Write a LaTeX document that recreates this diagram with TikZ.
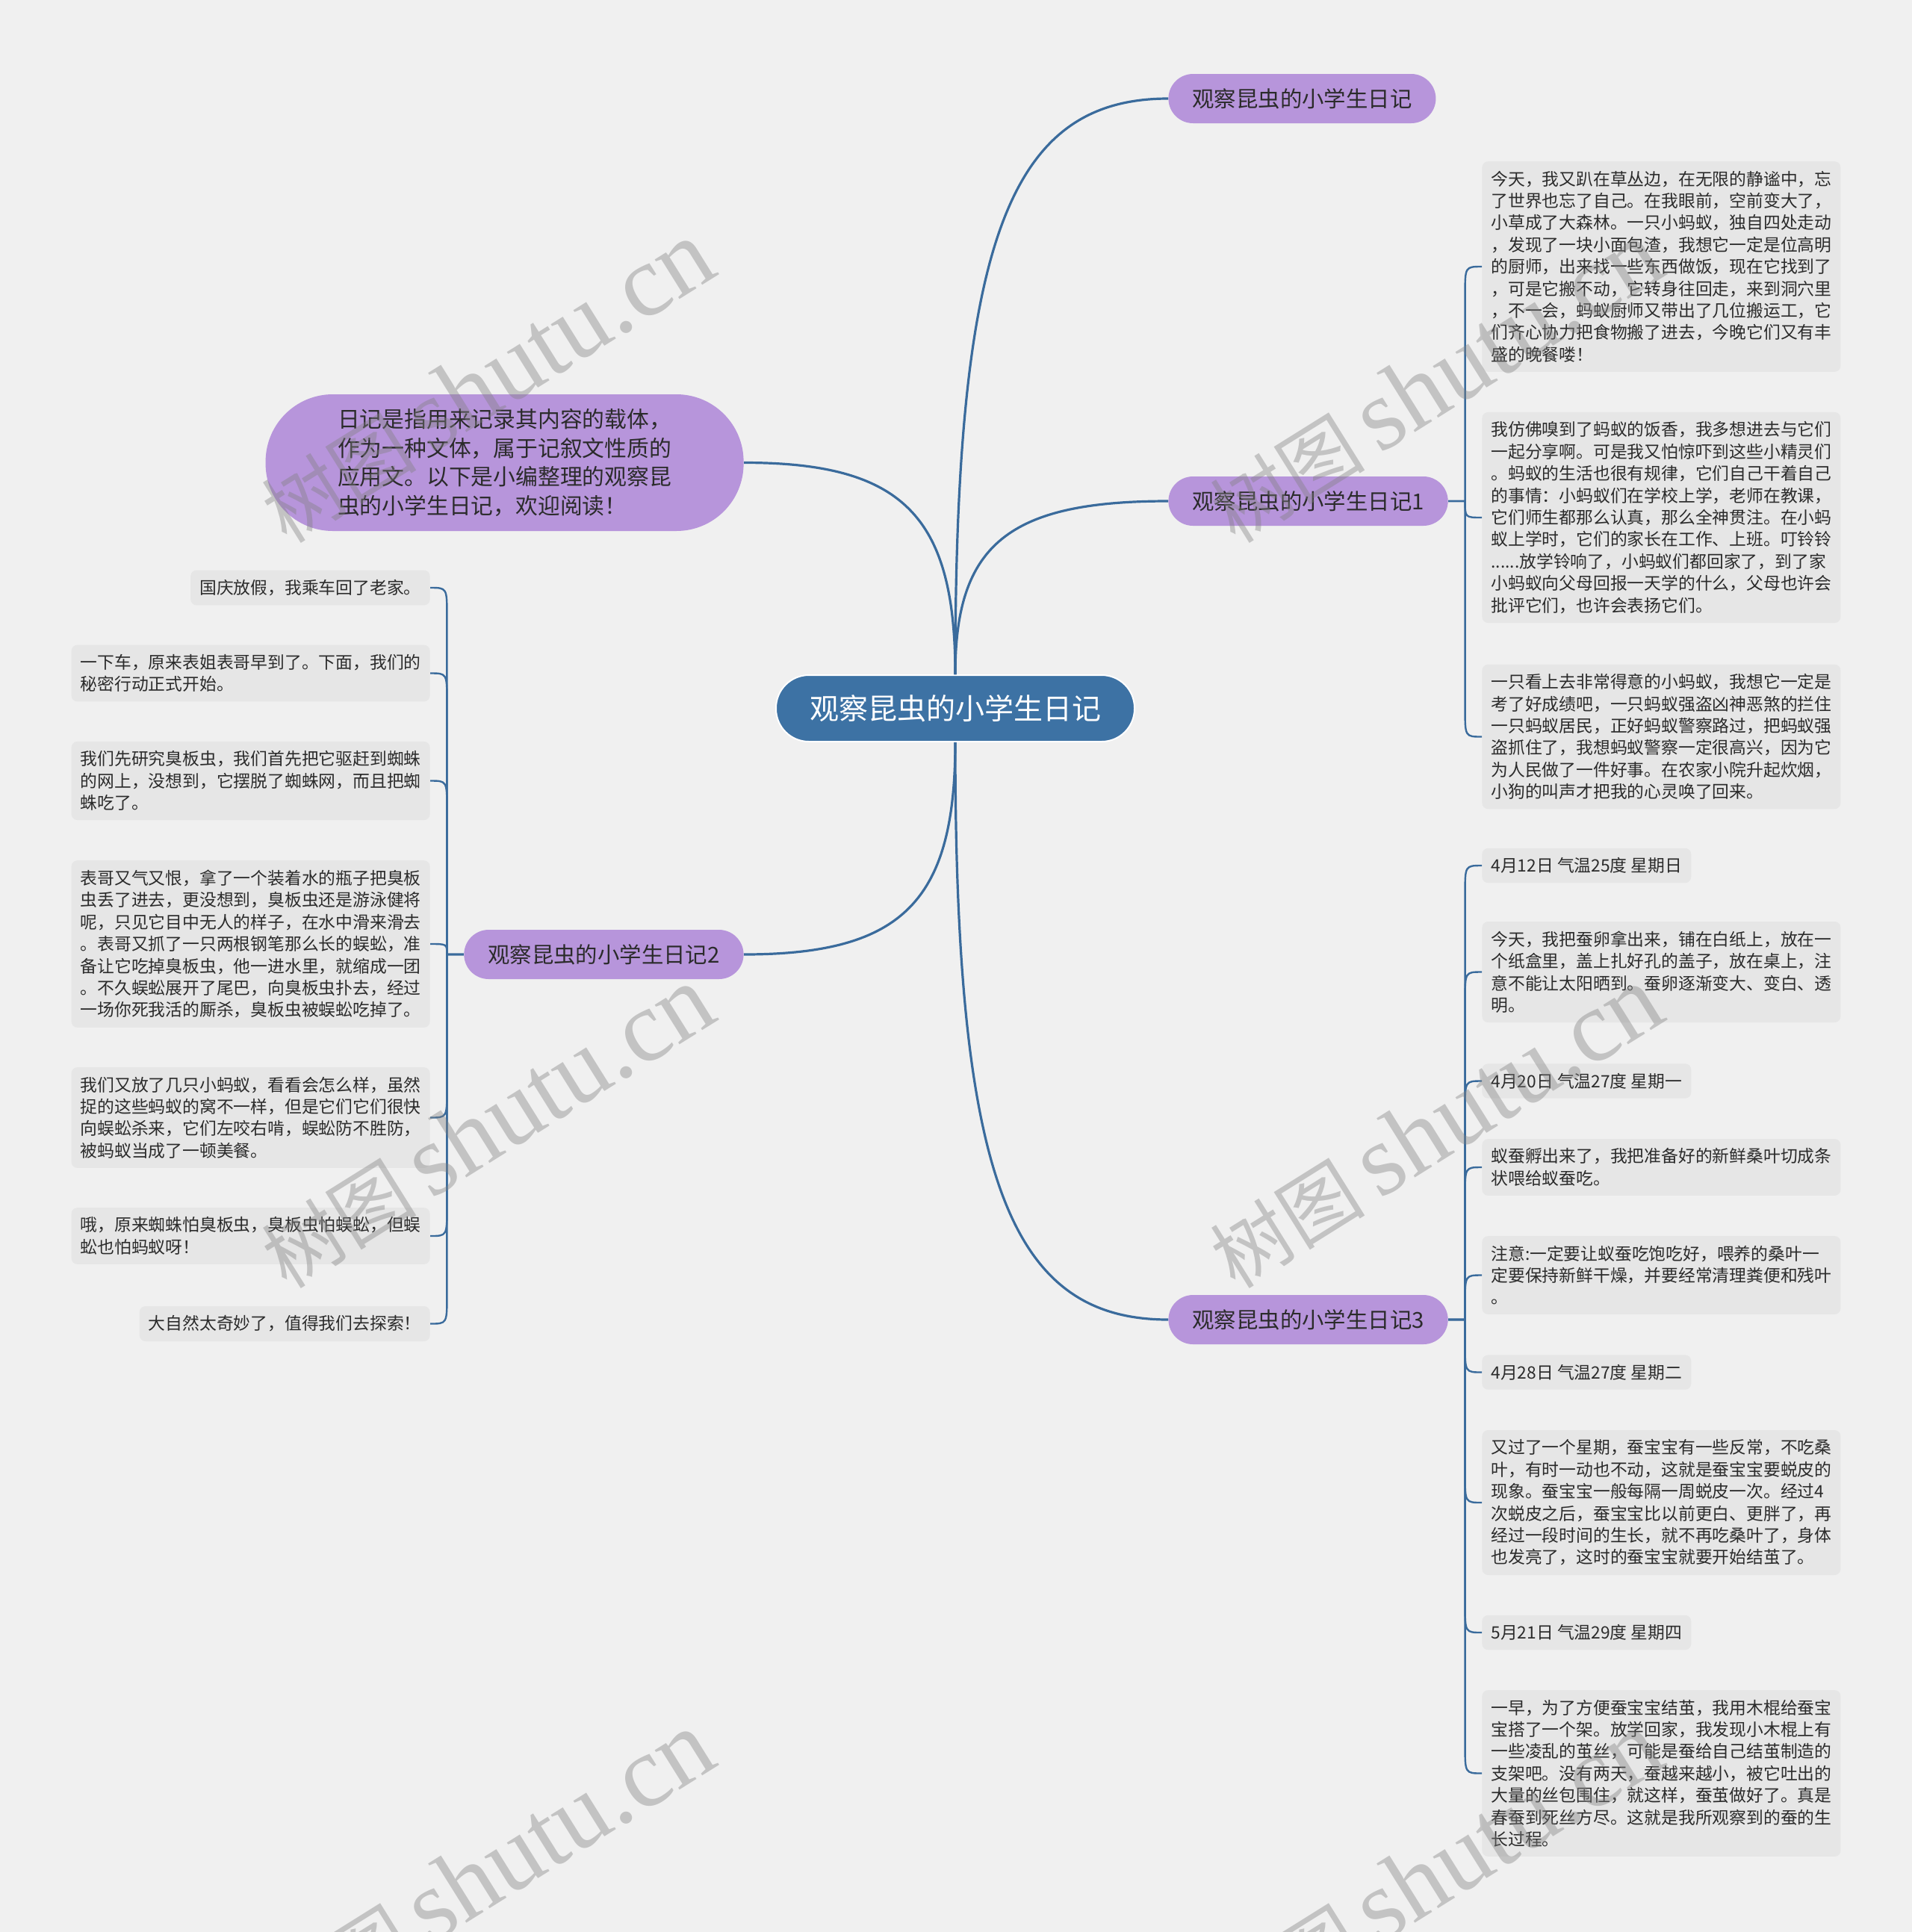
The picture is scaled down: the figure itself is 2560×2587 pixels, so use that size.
\documentclass[tikz,border=0pt]{standalone}
\usepackage{fontspec}
\setmainfont{Noto Sans CJK SC}
\newfontfamily\wmlat{Liberation Serif}
\newfontfamily\wmcjk{Noto Sans CJK SC}
\usetikzlibrary{calc}
\definecolor{bgc}{HTML}{F0F0F0}
\definecolor{mainblue}{HTML}{3D72A4}
\definecolor{linkblue}{HTML}{3A6B9C}
\definecolor{purp}{HTML}{B795DB}
\definecolor{leafgray}{HTML}{E6E6E6}
\definecolor{txt}{HTML}{2B2B2B}
\tikzset{
  rootnode/.style={fill=mainblue, draw=white, line width=1pt, rounded corners=22pt, text=white,
    font=\fontsize{19.5}{23}\selectfont, minimum height=44.5pt, minimum width=240pt, inner xsep=20pt},
  topicnode/.style={fill=purp, rounded corners=16.5pt, text=txt,
    font=\fontsize{14.7}{18}\selectfont, minimum height=33pt, inner xsep=16pt},
  intronode/.style={fill=purp, rounded corners=45pt, text=txt, align=left,
    font=\fontsize{14.9}{19.4}\selectfont, minimum height=91.5pt, minimum width=320pt, inner xsep=46pt},
  leafbox/.style={fill=leafgray, rounded corners=4pt, text=txt, align=left,
    font=\fontsize{11.4}{14.7}\selectfont, inner xsep=6pt, inner ysep=6.3pt},
  main link/.style={draw=linkblue, line width=1.6pt},
  leaf link/.style={draw=linkblue, line width=1.2pt},
  wmark/.style={text=gray, opacity=0.4, rotate=32, inner sep=0pt}
}
\newcommand\mlink[2]{\draw[main link] let \p1=(#1), \p2=(#2) in (\p1) .. controls (\x1,{\y1+0.75*(\y2-\y1)}) and ({\x1+0.25*(\x2-\x1)},\y2) .. (\p2);}
\newcommand\llink[2]{\draw[leaf link] let \p1=(#1), \p2=(#2), \n1={(\x1+\x2)/2}, \n2={min(19,abs(\y2-\y1))/max(abs(\y2-\y1),0.01)} in (\p1) -- ({\n1*1pt},\y1) -- ({\n1*1pt},{\y2+(\y1-\y2)*\n2}) .. controls ({\n1*1pt},\y2) .. (\p2);}
\newcommand\wmtext{{\wmcjk\fontsize{52}{52}\selectfont 树图}\hspace{10pt}{\wmlat\fontsize{68}{68}\selectfont shutu.cn}}
\begin{document}
\begin{tikzpicture}[x=0.5pt,y=-0.5pt]
\fill[bgc] (0,0) rectangle (2560,2587);
\useasboundingbox (0,0) rectangle (2560,2587);

% root and topics
\node[rootnode] (root) at (1279,948.5) {观察昆虫的小学生日记};
\node[topicnode, anchor=west] (A) at (1564,132) {观察昆虫的小学生日记};
\node[topicnode, anchor=west] (B) at (1564,671) {观察昆虫的小学生日记1};
\node[topicnode, anchor=west] (C) at (1564,1767) {观察昆虫的小学生日记3};
\node[topicnode, anchor=east] (D) at (996,1278) {观察昆虫的小学生日记2};
\node[intronode, anchor=east] (E) at (996,619.5) {日记是指用来记录其内容的载体，\\作为一种文体，属于记叙文性质的\\应用文。以下是小编整理的观察昆\\虫的小学生日记，欢迎阅读！};

% leaves of diary 1
\node[leafbox, anchor=west] (b1) at (1984,357) {今天，我又趴在草丛边，在无限的静谧中，忘\\了世界也忘了自己。在我眼前，空前变大了，\\小草成了大森林。一只小蚂蚁，独自四处走动\\，发现了一块小面包渣，我想它一定是位高明\\的厨师，出来找一些东西做饭，现在它找到了\\，可是它搬不动，它转身往回走，来到洞穴里\\，不一会，蚂蚁厨师又带出了几位搬运工，它\\们齐心协力把食物搬了进去，今晚它们又有丰\\盛的晚餐喽！};
\node[leafbox, anchor=west] (b2) at (1984,693) {我仿佛嗅到了蚂蚁的饭香，我多想进去与它们\\一起分享啊。可是我又怕惊吓到这些小精灵们\\。蚂蚁的生活也很有规律，它们自己干着自己\\的事情：小蚂蚁们在学校上学，老师在教课，\\它们师生都那么认真，那么全神贯注。在小蚂\\蚁上学时，它们的家长在工作、上班。叮铃铃\\......放学铃响了，小蚂蚁们都回家了，到了家\\小蚂蚁向父母回报一天学的什么，父母也许会\\批评它们，也许会表扬它们。};
\node[leafbox, anchor=west] (b3) at (1984,986.5) {一只看上去非常得意的小蚂蚁，我想它一定是\\考了好成绩吧，一只蚂蚁强盗凶神恶煞的拦住\\一只蚂蚁居民，正好蚂蚁警察路过，把蚂蚁强\\盗抓住了，我想蚂蚁警察一定很高兴，因为它\\为人民做了一件好事。在农家小院升起炊烟，\\小狗的叫声才把我的心灵唤了回来。};

% leaves of diary 3
\node[leafbox, anchor=west] (c1) at (1984,1159) {4月12日 气温25度 星期日};
\node[leafbox, anchor=west] (c2) at (1984,1301.5) {今天，我把蚕卵拿出来，铺在白纸上，放在一\\个纸盒里，盖上扎好孔的盖子，放在桌上，注\\意不能让太阳晒到。蚕卵逐渐变大、变白、透\\明。};
\node[leafbox, anchor=west] (c3) at (1984,1447.5) {4月20日 气温27度 星期一};
\node[leafbox, anchor=west] (c4) at (1984,1563) {蚁蚕孵出来了，我把准备好的新鲜桑叶切成条\\状喂给蚁蚕吃。};
\node[leafbox, anchor=west] (c5) at (1984,1707.5) {注意:一定要让蚁蚕吃饱吃好，喂养的桑叶一\\定要保持新鲜干燥，并要经常清理粪便和残叶\\。};
\node[leafbox, anchor=west] (c6) at (1984,1837.5) {4月28日 气温27度 星期二};
\node[leafbox, anchor=west] (c7) at (1984,2012) {又过了一个星期，蚕宝宝有一些反常，不吃桑\\叶，有时一动也不动，这就是蚕宝宝要蜕皮的\\现象。蚕宝宝一般每隔一周蜕皮一次。经过4\\次蜕皮之后，蚕宝宝比以前更白、更胖了，再\\经过一段时间的生长，就不再吃桑叶了，身体\\也发亮了，这时的蚕宝宝就要开始结茧了。};
\node[leafbox, anchor=west] (c8) at (1984,2186) {5月21日 气温29度 星期四};
\node[leafbox, anchor=west] (c9) at (1984,2374.5) {一早，为了方便蚕宝宝结茧，我用木棍给蚕宝\\宝搭了一个架。放学回家，我发现小木棍上有\\一些凌乱的茧丝，可能是蚕给自己结茧制造的\\支架吧。没有两天，蚕越来越小，被它吐出的\\大量的丝包围住，就这样，蚕茧做好了。真是\\春蚕到死丝方尽。这就是我所观察到的蚕的生\\长过程。};

% leaves of diary 2
\node[leafbox, anchor=east] (d1) at (576,787) {国庆放假，我乘车回了老家。};
\node[leafbox, anchor=east] (d2) at (576,901.5) {一下车，原来表姐表哥早到了。下面，我们的\\秘密行动正式开始。};
\node[leafbox, anchor=east] (d3) at (576,1045.5) {我们先研究臭板虫，我们首先把它驱赶到蜘蛛\\的网上，没想到，它摆脱了蜘蛛网，而且把蜘\\蛛吃了。};
\node[leafbox, anchor=east] (d4) at (576,1264) {表哥又气又恨，拿了一个装着水的瓶子把臭板\\虫丢了进去，更没想到，臭板虫还是游泳健将\\呢，只见它目中无人的样子，在水中滑来滑去\\。表哥又抓了一只两根钢笔那么长的蜈蚣，准\\备让它吃掉臭板虫，他一进水里，就缩成一团\\。不久蜈蚣展开了尾巴，向臭板虫扑去，经过\\一场你死我活的厮杀，臭板虫被蜈蚣吃掉了。};
\node[leafbox, anchor=east] (d5) at (576,1496.5) {我们又放了几只小蚂蚁，看看会怎么样，虽然\\捉的这些蚂蚁的窝不一样，但是它们它们很快\\向蜈蚣杀来，它们左咬右啃，蜈蚣防不胜防，\\被蚂蚁当成了一顿美餐。};
\node[leafbox, anchor=east] (d6) at (576,1655) {哦，原来蜘蛛怕臭板虫，臭板虫怕蜈蚣，但蜈\\蚣也怕蚂蚁呀！};
\node[leafbox, anchor=east] (d7) at (576,1772.5) {大自然太奇妙了，值得我们去探索！};

% main links
\mlink{root.north}{A.west}
\mlink{root.north}{B.west}
\mlink{root.north}{E.east}
\mlink{root.south}{D.east}
\mlink{root.south}{C.west}

% leaf links
\foreach \k in {b1,b2,b3} {\llink{B.east}{\k.west}}
\foreach \k in {c1,c2,c3,c4,c5,c6,c7,c8,c9} {\llink{C.east}{\k.west}}
\foreach \k in {d1,d2,d3,d4,d5,d6,d7} {\llink{D.west}{\k.east}}

% watermarks
\node[wmark] (w1) at (652,511) {\wmtext};
\node[wmark] (w2) at (652,1509) {\wmtext};
\node[wmark] (w3) at (652,2507) {\wmtext};
\node[wmark] (w4) at (1922,511) {\wmtext};
\node[wmark] (w5) at (1922,1509) {\wmtext};
\node[wmark] (w6) at (1922,2507) {\wmtext};
\end{tikzpicture}
\end{document}
